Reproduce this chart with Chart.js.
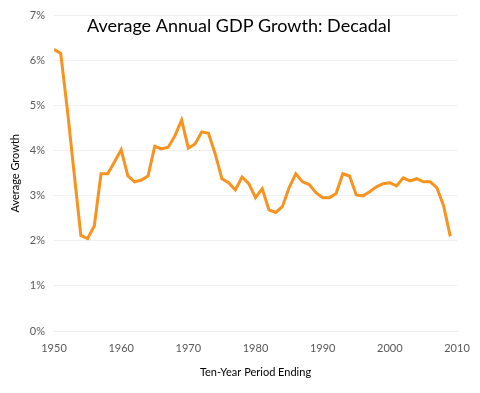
<!DOCTYPE html>
<html>
<head>
<meta charset="utf-8">
<script src="https://cdn.jsdelivr.net/npm/chart.js@4.4.0/dist/chart.umd.min.js"></script>
<style>
    html, body { margin: 0; padding: 0; background: #fff; }
    #wrap { width: 480px; height: 393px; position: relative; }
</style>
</head>
<body>
<div id="wrap"><canvas id="gdp"></canvas></div>
<script>
// 年（10年期間の終了年）
const years = [
    1950, 1951, 1952, 1953, 1954, 1955, 1956, 1957, 1958, 1959,
    1960, 1961, 1962, 1963, 1964, 1965, 1966, 1967, 1968, 1969,
    1970, 1971, 1972, 1973, 1974, 1975, 1976, 1977, 1978, 1979,
    1980, 1981, 1982, 1983, 1984, 1985, 1986, 1987, 1988, 1989,
    1990, 1991, 1992, 1993, 1994, 1995, 1996, 1997, 1998, 1999,
    2000, 2001, 2002, 2003, 2004, 2005, 2006, 2007, 2008, 2009
];

// 平均成長率 (%)
const growth = [
    6.25, 6.16, 4.9, 3.5, 2.12, 2.05, 2.33, 3.49, 3.49, 3.75,
    4.02, 3.44, 3.31, 3.35, 3.44, 4.10, 4.04, 4.08, 4.33, 4.68,
    4.06, 4.15, 4.42, 4.39, 3.93, 3.38, 3.29, 3.13, 3.42, 3.27,
    2.96, 3.16, 2.69, 2.63, 2.76, 3.18, 3.49, 3.31, 3.25, 3.07,
    2.96, 2.96, 3.05, 3.49, 3.44, 3.02, 3.00, 3.09, 3.20, 3.27,
    3.29, 3.22, 3.40, 3.33, 3.38, 3.31, 3.31, 3.18, 2.78, 2.10
];

// 軸の目盛り
const xTicks = [1950, 1960, 1970, 1980, 1990, 2000, 2010];
const yTicks = [0, 1, 2, 3, 4, 5, 6, 7];

const chartTitle = 'Average Annual GDP Growth: Decadal';
const fontFamily = 'Lato, "Open Sans", sans-serif';
const tickColor = '#595959';

// タイトルをプロット領域の上に重ねて描く
const titlePlugin = {
    id: 'overlayTitle',
    afterDraw(chart) {
        const ctx = chart.ctx;
        ctx.save();
        ctx.font = '18px ' + fontFamily;
        ctx.fillStyle = '#000';
        ctx.textAlign = 'center';
        ctx.textBaseline = 'alphabetic';
        ctx.fillText(chartTitle, 239, 32);
        ctx.restore();
    }
};

new Chart(document.getElementById('gdp'), {
    type: 'line',
    data: {
        datasets: [{
            label: 'Average Growth',
            data: years.map((y, i) => ({ x: y, y: growth[i] })),
            borderColor: '#F7931E',
            borderWidth: 3,
            pointRadius: 0,
            tension: 0,
            fill: false
        }]
    },
    options: {
        responsive: true,
        maintainAspectRatio: false,
        animation: false,
        layout: { padding: { left: 0, right: 23, top: 14, bottom: 0 } },
        plugins: {
            legend: { display: false },
            title: { display: false },
            tooltip: { enabled: false }
        },
        scales: {
            x: {
                type: 'linear',
                min: 1950,
                max: 2010,
                afterBuildTicks: axis => { axis.ticks = xTicks.map(v => ({ value: v })); },
                afterFit: axis => { axis.height = 62; },
                grid: { display: false },
                border: { color: '#eeeeee' },
                ticks: {
                    color: tickColor,
                    font: { family: fontFamily, size: 11 },
                    padding: 3,
                    maxRotation: 0,
                    callback: v => String(v)
                },
                title: {
                    display: true,
                    text: 'Ten-Year Period Ending',
                    color: '#000',
                    font: { family: fontFamily, size: 11 },
                    padding: { top: 4, bottom: 14 }
                }
            },
            y: {
                min: 0,
                max: 7,
                afterBuildTicks: axis => { axis.ticks = yTicks.map(v => ({ value: v })); },
                afterFit: axis => { axis.width = 54; },
                grid: { color: '#f0f0f0', drawTicks: false },
                border: { display: false },
                ticks: {
                    color: tickColor,
                    font: { family: fontFamily, size: 11 },
                    padding: 9,
                    callback: v => v + '%'
                },
                title: {
                    display: true,
                    text: 'Average Growth',
                    color: '#000',
                    font: { family: fontFamily, size: 11 },
                    padding: { top: 9, bottom: 2 }
                }
            }
        }
    },
    plugins: [titlePlugin]
});
</script>
</body>
</html>
